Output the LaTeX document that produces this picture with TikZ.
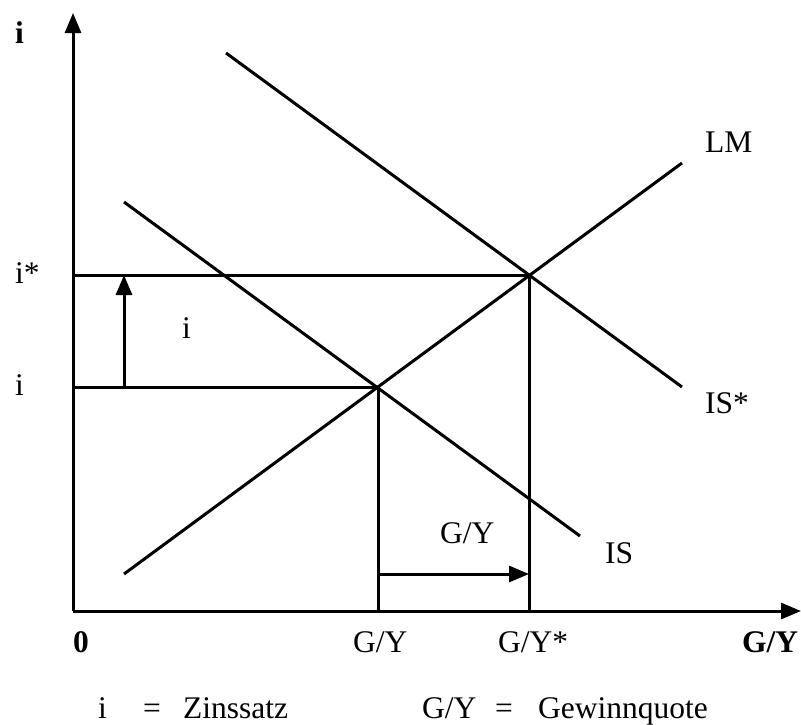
\documentclass[tikz,border=0pt]{standalone}
\usepackage{fontspec}
\setmainfont{Liberation Serif}
\usetikzlibrary{arrows.meta}
\begin{document}
\begin{tikzpicture}[x=1pt,y=-1pt,
  ln/.style={line width=3pt},
  arr/.style={line width=3pt,-{Triangle[length=20pt,width=16pt]}},
  lbl/.style={inner sep=0pt,anchor=base west,font=\fontsize{31.5}{36}\selectfont},
  blbl/.style={lbl,font=\fontsize{31.5}{36}\selectfont\bfseries}]
\useasboundingbox (0,0) rectangle (801,724);
% points
\coordinate (O) at (73,611);
\coordinate (Ytop) at (73,13);
\coordinate (Xend) at (801,611);
\coordinate (E1) at (378,387);
\coordinate (E2) at (529,275);
\coordinate (Ai) at (73,387);
\coordinate (Ais) at (73,275);
\coordinate (Bg) at (378,611);
\coordinate (Bgs) at (529,611);
\coordinate (LMa) at (124,574);
\coordinate (LMb) at (682,163);
\coordinate (ISa) at (124,202);
\coordinate (ISb) at (580,536);
\coordinate (ISsa) at (226,53);
\coordinate (ISsb) at (682,387);
\coordinate (VA1) at (124,387);
\coordinate (VA2) at (124,275);
\coordinate (HA1) at (378,574);
\coordinate (HA2) at (529,574);
% axes
\draw[arr] (O) -- (Ytop);
\draw[arr] (O) -- (Xend);
% curves
\draw[ln] (LMa) -- (LMb);
\draw[ln] (ISa) -- (ISb);
\draw[ln] (ISsa) -- (ISsb);
% guides
\draw[ln] (Ai) -- (E1) -- (Bg);
\draw[ln] (Ais) -- (E2) -- (Bgs);
% arrows
\draw[arr] (VA1) -- (VA2);
\draw[arr] (HA1) -- (HA2);
% labels
\node[blbl] (ly) at (15,43) {i};
\node[lbl] (lis) at (15,283) {i*};
\node[lbl] (li) at (15,395) {i};
\node[lbl] (ldi) at (182,338) {i};
\node[lbl] (lLM) at (705,152) {LM};
\node[lbl] (lISs) at (705,413) {IS*};
\node[lbl] (lIS) at (605,563) {IS};
\node[lbl] (ldg) at (440,543) {G/Y};
\node[blbl] (l0) at (73,652) {0};
\node[lbl] (lg) at (353,652) {G/Y};
\node[lbl] (lgs) at (498,652) {G/Y*};
\node[blbl] (lx) at (742,652) {G/Y};
\node[lbl] (k1) at (98,718) {i};
\node[lbl] (k2) at (143,718) {=};
\node[lbl] (k3) at (183,718) {Zinssatz};
\node[lbl] (k4) at (422,718) {G/Y};
\node[lbl] (k5) at (495,718) {=};
\node[lbl] (k6) at (538,718) {Gewinnquote};
\end{tikzpicture}
\end{document}
